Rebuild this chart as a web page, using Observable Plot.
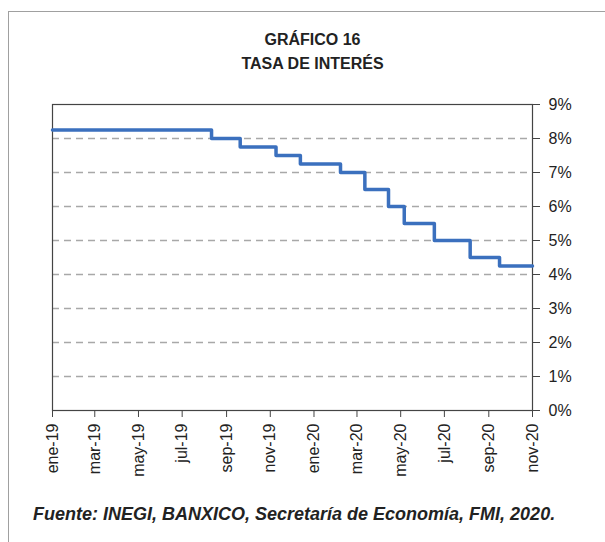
<!DOCTYPE html>
<html>
<head>
<meta charset="utf-8">
<script src="https://cdn.jsdelivr.net/npm/d3@7"></script>
<script src="https://cdn.jsdelivr.net/npm/@observablehq/plot@0.6"></script>
<style>
  html, body { margin: 0; padding: 0; background: #fff; }
  body { width: 605px; height: 542px; position: relative; overflow: hidden; }
  #frame { position: absolute; left: 8px; top: 11px; width: 620px; height: 560px;
           border-left: 1.5px solid #a0a0a0; border-top: 1.5px solid #a0a0a0; }
  #chart { position: absolute; left: 0; top: 0; }
  .title { position: absolute; left: 0; width: 625px; text-align: center;
           font-family: "Liberation Sans", Arial, sans-serif;
           font-weight: bold; font-size: 16px; color: #222; line-height: 1; }
  #footer { position: absolute; left: 33px; top: 505px; white-space: nowrap;
            font-family: "Liberation Sans", Arial, sans-serif;
            font-weight: bold; font-style: italic; font-size: 18px; color: #222; line-height: 1; }
</style>
</head>
<body>
<div id="frame"></div>
<div id="chart"></div>
<div class="title" style="top:32px">GRÁFICO 16</div>
<div class="title" style="top:56px">TASA DE INTERÉS</div>
<div id="footer">Fuente: INEGI, BANXICO, Secretaría de Economía, FMI, 2020.</div>
<script>
// Fechas de cambio de la tasa y nivel vigente desde esa fecha (%)
const fechas = ["2019-01-01","2019-08-11","2019-09-20","2019-11-09","2019-12-13","2020-02-07",
                "2020-03-12","2020-04-14","2020-05-06","2020-06-17","2020-08-06","2020-09-16","2020-11-01"];
const tasas  = [8.25, 8.00, 7.75, 7.50, 7.25, 7.00, 6.50, 6.00, 5.50, 5.00, 4.50, 4.25, 4.25];

// Eje X
const tickFechas = ["2019-01-01","2019-03-01","2019-05-01","2019-07-01","2019-09-01","2019-11-01",
                    "2020-01-01","2020-03-01","2020-05-01","2020-07-01","2020-09-01","2020-11-01"];
const tickEtiquetas = ["ene-19","mar-19","may-19","jul-19","sep-19","nov-19",
                       "ene-20","mar-20","may-20","jul-20","sep-20","nov-20"];
// Eje Y
const yTicks = [0,1,2,3,4,5,6,7,8,9];
const yGrid = [1,2,3,4,5,6,7,8];

const data = fechas.map((f, i) => ({fecha: new Date(f + "T00:00:00Z"), tasa: tasas[i]}));
const tickDates = tickFechas.map(f => new Date(f + "T00:00:00Z"));
const labelMap = new Map(tickDates.map((d, i) => [+d, tickEtiquetas[i]]));

const chart = Plot.plot({
  width: 605,
  height: 542,
  marginLeft: 52,
  marginRight: 73,
  marginTop: 104,
  marginBottom: 132,
  style: {fontFamily: "'Liberation Sans', Arial, sans-serif", fontSize: "16px", color: "#222", background: "transparent", overflow: "visible"},
  x: {type: "utc", domain: [tickDates[0], tickDates[tickDates.length - 1]]},
  y: {domain: [0, 9]},
  marks: [
    Plot.ruleY(yGrid, {stroke: "#a8a8a8", strokeWidth: 1.5, strokeDasharray: "7,5"}),
    Plot.frame({stroke: "#444", strokeWidth: 1.2}),
    Plot.line(data, {x: "fecha", y: "tasa", curve: "step-after", stroke: "#3b70be", strokeWidth: 3.5}),
    Plot.axisY(yTicks, {anchor: "right", tickFormat: d => d + "%", tickSize: 7, tickPadding: 9, label: null, stroke: "#444", fill: "#222"}),
    Plot.axisX(tickDates, {anchor: "bottom", tickFormat: d => labelMap.get(+d), tickRotate: -90, tickSize: 7, tickPadding: 6, label: null, stroke: "#444", fill: "#222"})
  ]
});
document.getElementById("chart").appendChild(chart);
</script>
</body>
</html>
